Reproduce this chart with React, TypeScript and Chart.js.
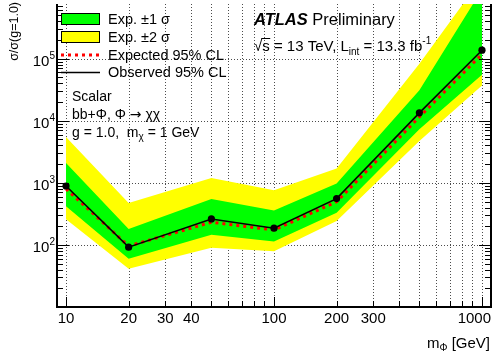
import React, { useEffect, useRef } from "react";
import { Chart, registerables } from "chart.js";

Chart.register(...registerables);

// ---- data ----
const masses = [10, 20, 50, 100, 200, 500, 1000];
const observed = [890, 92, 262, 186, 557, 13400, 137000];
const expected = [800, 96, 232, 174, 495, 11500, 118000];
const plus1 = [2080, 180, 550, 360, 980, 31000, 1300000];
const minus1 = [420, 60, 146, 114, 330, 7300, 55000];
const plus2 = [5500, 475, 1200, 760, 1710, 83000, 2000000];
const minus2 = [260, 41.5, 90, 79, 243, 4700, 37000];

const xGrid = [10, 20, 30, 40, 50, 60, 70, 80, 90, 100, 200, 300, 400, 500, 600, 700, 800, 900, 1000];
const xLabels = [10, 20, 30, 40, 100, 200, 300, 1000];
const yDecades = [100, 1000, 10000, 100000];
const yLabelExp = [2, 3, 4, 5];

const X_MIN = 9.05;
const X_MAX = 1105;
const Y_MIN = 10;
const Y_MAX = 7.6e5;

const FAMILY = '"Liberation Sans", Arial, Helvetica, sans-serif';

type Part = { t: string; size: number; dy?: number; weight?: string; style?: string; family?: string };

function fontOf(p: Part) {
  return `${p.style || "normal"} ${p.weight || "normal"} ${p.size}px ${p.family || FAMILY}`;
}

function measureParts(ctx: CanvasRenderingContext2D, parts: Part[]) {
  let w = 0;
  for (const p of parts) {
    ctx.font = fontOf(p);
    w += ctx.measureText(p.t).width;
  }
  return w;
}

function drawParts(
  ctx: CanvasRenderingContext2D,
  parts: Part[],
  x: number,
  y: number,
  align: "left" | "right" | "center" = "left"
) {
  const w = measureParts(ctx, parts);
  let cx = align === "left" ? x : align === "right" ? x - w : x - w / 2;
  ctx.textAlign = "left";
  ctx.textBaseline = "alphabetic";
  const starts: number[] = [];
  for (const p of parts) {
    ctx.font = fontOf(p);
    starts.push(cx);
    ctx.fillText(p.t, cx, y + (p.dy || 0));
    cx += ctx.measureText(p.t).width;
  }
  starts.push(cx);
  return starts;
}

const decor = {
  id: "decor",
  beforeDatasetsDraw(chart: any) {
    const { ctx, chartArea } = chart;
    const { left, right, top, bottom } = chartArea;
    const xs = chart.scales.x;
    const ys = chart.scales.y;
    ctx.save();
    ctx.beginPath();
    ctx.rect(left, top, right - left, bottom - top);
    ctx.clip();
    ctx.strokeStyle = "rgba(0,0,0,0.7)";
    ctx.lineWidth = 1;
    ctx.setLineDash([1, 2]);
    for (const v of xGrid) {
      const px = Math.round(xs.getPixelForValue(v)) + 0.5;
      ctx.beginPath();
      ctx.moveTo(px, top);
      ctx.lineTo(px, bottom);
      ctx.stroke();
    }
    for (const v of yDecades) {
      const py = Math.round(ys.getPixelForValue(v)) + 0.5;
      ctx.beginPath();
      ctx.moveTo(left, py);
      ctx.lineTo(right, py);
      ctx.stroke();
    }
    ctx.restore();
  },
  afterDatasetsDraw(chart: any) {
    const { ctx, chartArea } = chart;
    const { left, right, top, bottom } = chartArea;
    const xs = chart.scales.x;
    const ys = chart.scales.y;
    ctx.save();
    ctx.setLineDash([]);
    ctx.strokeStyle = "#000";
    ctx.fillStyle = "#000";

    // ticks
    ctx.lineWidth = 1;
    for (let d = 10; d <= 1e6; d *= 10) {
      for (let m = 1; m <= 9; m++) {
        const v = d * m;
        if (v < Y_MIN || v > Y_MAX) continue;
        const py = Math.round(ys.getPixelForValue(v)) + 0.5;
        const len = m === 1 ? 12 : 6;
        ctx.beginPath();
        ctx.moveTo(left, py);
        ctx.lineTo(left + len, py);
        ctx.moveTo(right, py);
        ctx.lineTo(right - len, py);
        ctx.stroke();
      }
    }
    for (const v of xGrid) {
      const px = Math.round(xs.getPixelForValue(v)) + 0.5;
      const dec = Math.abs(Math.log10(v) - Math.round(Math.log10(v))) < 1e-9;
      const len = dec ? 10 : 6;
      ctx.beginPath();
      ctx.moveTo(px, bottom);
      ctx.lineTo(px, bottom - len);
      ctx.stroke();
    }

    // frame (left, bottom, right)
    ctx.lineWidth = 2;
    ctx.beginPath();
    ctx.moveTo(left, top);
    ctx.lineTo(left, bottom);
    ctx.lineTo(right, bottom);
    ctx.lineTo(right, top);
    ctx.stroke();

    // y tick labels
    yLabelExp.forEach((e) => {
      const py = ys.getPixelForValue(Math.pow(10, e));
      drawParts(ctx, [{ t: "10", size: 15 }, { t: String(e), size: 10, dy: -7 }], 55, py + 7.5, "right");
    });
    // x tick labels
    xLabels.forEach((v, i) => {
      const px = xs.getPixelForValue(v);
      if (i === xLabels.length - 1) {
        drawParts(ctx, [{ t: String(v), size: 15 }], Math.min(px + 16, right), 323, "right");
      } else {
        drawParts(ctx, [{ t: String(v), size: 15 }], px, 323, "center");
      }
    });

    // axis titles
    drawParts(ctx, [{ t: "m", size: 15 }, { t: "Φ", size: 10, dy: 3 }, { t: " [GeV]", size: 15 }], 490, 348, "right");
    ctx.save();
    ctx.translate(18, 2);
    ctx.rotate(-Math.PI / 2);
    ctx.font = `normal normal 12.5px ${FAMILY}`;
    ctx.textAlign = "right";
    ctx.textBaseline = "alphabetic";
    ctx.fillText("σ/σ(g=1.0)", 0, 0);
    ctx.restore();

    // legend
    const lx = 61;
    const lw = 39;
    const tx = 108;
    ctx.lineWidth = 1;
    ctx.fillStyle = "#00ff00";
    ctx.fillRect(lx, 13, lw, 12);
    ctx.strokeStyle = "#000";
    ctx.strokeRect(lx + 0.5, 13.5, lw - 1, 11);
    ctx.fillStyle = "#ffff00";
    ctx.fillRect(lx, 31, lw, 12);
    ctx.strokeRect(lx + 0.5, 31.5, lw - 1, 11);
    ctx.strokeStyle = "#ff0000";
    ctx.lineWidth = 3;
    ctx.setLineDash([3, 4]);
    ctx.beginPath();
    ctx.moveTo(lx, 55);
    ctx.lineTo(lx + lw, 55);
    ctx.stroke();
    ctx.setLineDash([]);
    ctx.strokeStyle = "#000";
    ctx.lineWidth = 1.5;
    ctx.beginPath();
    ctx.moveTo(lx, 72.5);
    ctx.lineTo(lx + lw, 72.5);
    ctx.stroke();
    ctx.fillStyle = "#000";
    drawParts(ctx, [{ t: "Exp. ±1 σ", size: 14.5 }], tx, 24);
    drawParts(ctx, [{ t: "Exp. ±2 σ", size: 14.5 }], tx, 42.3);
    drawParts(ctx, [{ t: "Expected 95% CL", size: 14.5 }], tx, 60);
    drawParts(ctx, [{ t: "Observed 95% CL", size: 14.5 }], tx, 77.3);

    // left info block
    drawParts(ctx, [{ t: "Scalar", size: 14 }], 72, 100.5);
    drawParts(
      ctx,
      [
        { t: "bb+Φ, Φ ", size: 14 },
        { t: "→", size: 14, family: '"DejaVu Sans", sans-serif' },
        { t: " χχ", size: 14 },
      ],
      72,
      118.5
    );
    drawParts(
      ctx,
      [
        { t: "g = 1.0,  m", size: 14 },
        { t: "χ", size: 10, dy: 3 },
        { t: " = 1 GeV", size: 14 },
      ],
      72,
      137
    );

    // ATLAS label
    drawParts(
      ctx,
      [
        { t: "ATLAS", size: 16.5, weight: "bold", style: "italic" },
        { t: " Preliminary", size: 16.5 },
      ],
      254,
      25
    );
    const st = drawParts(
      ctx,
      [
        { t: "√", size: 15 },
        { t: "s", size: 15 },
        { t: " = 13 TeV, L", size: 15 },
        { t: "int", size: 10, dy: 4 },
        { t: " = 13.3 fb", size: 15 },
        { t: "-1", size: 10, dy: -7 },
      ],
      254,
      50.5
    );
    ctx.lineWidth = 1;
    ctx.beginPath();
    ctx.moveTo(st[1] - 1, 38.5);
    ctx.lineTo(st[2] + 0.5, 38.5);
    ctx.stroke();

    ctx.restore();
  },
};

function pts(arr: number[]) {
  return masses.map((m, i) => ({ x: m, y: arr[i] }));
}

export default function App() {
  const ref = useRef<HTMLCanvasElement | null>(null);
  useEffect(() => {
    if (!ref.current) return;
    const chart = new Chart(ref.current, {
      type: "line",
      data: {
        datasets: [
          {
            label: "Exp. ±2 σ",
            data: pts(plus2),
            fill: "+1",
            backgroundColor: "#ffff00",
            borderWidth: 0,
            pointRadius: 0,
            order: 6,
          },
          {
            label: "minus2",
            data: pts(minus2),
            fill: false,
            borderWidth: 0,
            pointRadius: 0,
            order: 5,
          },
          {
            label: "Exp. ±1 σ",
            data: pts(plus1),
            fill: "+1",
            backgroundColor: "#00ff00",
            borderWidth: 0,
            pointRadius: 0,
            order: 4,
          },
          {
            label: "minus1",
            data: pts(minus1),
            fill: false,
            borderWidth: 0,
            pointRadius: 0,
            order: 3,
          },
          {
            label: "Expected 95% CL",
            data: pts(expected),
            fill: false,
            borderColor: "#ff0000",
            borderWidth: 3,
            borderDash: [3, 4],
            pointRadius: 0,
            order: 2,
          },
          {
            label: "Observed 95% CL",
            data: pts(observed),
            fill: false,
            borderColor: "#000000",
            borderWidth: 1.6,
            pointRadius: 3.6,
            pointBackgroundColor: "#000000",
            pointBorderColor: "#000000",
            pointBorderWidth: 0,
            order: 1,
          },
        ],
      },
      options: {
        animation: false,
        responsive: false,
        devicePixelRatio: 1,
        layout: { padding: { left: 0, right: 8, top: 0, bottom: 0 } },
        elements: { line: { tension: 0 } },
        plugins: {
          legend: { display: false },
          tooltip: { enabled: false },
        },
        scales: {
          x: {
            type: "logarithmic",
            min: X_MIN,
            max: X_MAX,
            grid: { display: false },
            border: { display: false },
            ticks: { display: false },
            afterFit: (s: any) => {
              s.height = 51;
            },
          },
          y: {
            type: "logarithmic",
            min: Y_MIN,
            max: Y_MAX,
            grid: { display: false },
            border: { display: false },
            ticks: { display: false },
            afterFit: (s: any) => {
              s.width = 57;
            },
          },
        },
      },
      plugins: [decor],
    } as any);
    return () => chart.destroy();
  }, []);
  return (
    <canvas
      ref={ref}
      width={499}
      height={358}
      style={{ position: "absolute", left: 0, top: 0, display: "block", width: 499, height: 358 }}
    />
  );
}
